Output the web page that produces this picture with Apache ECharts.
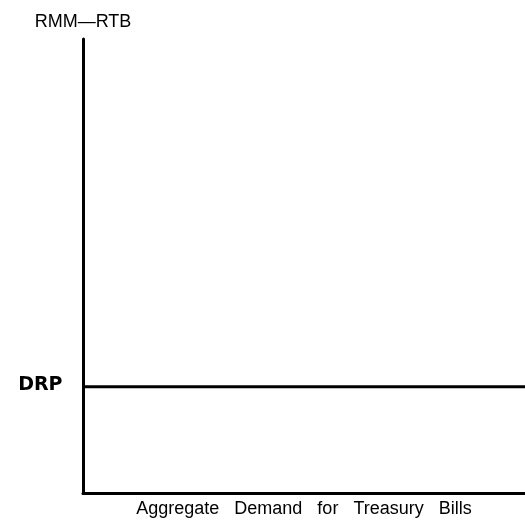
<!DOCTYPE html>
<html>
<head>
<meta charset="utf-8">
<style>
  html, body { margin: 0; padding: 0; background: #fff; }
  #chart { width: 525px; height: 523px; }
</style>
<script src="https://cdn.jsdelivr.net/npm/echarts@6/dist/echarts.min.js"></script>
</head>
<body>
<div id="chart"></div>
<script>
// data (arbitrary 0-100 scale, axes carry no ticks)
var xRange = [0, 100];
var yRange = [0, 100];
var drpLevel = 23.4;
var drpX = [0, 100];
var yTitle = 'RMM\u2014RTB';
var xTitle = 'Aggregate   Demand   for   Treasury   Bills';
var lineLabel = 'DRP';

var chart = echarts.init(document.getElementById('chart'));
var font = 'Liberation Sans, Arial, sans-serif';

// first point carries the DRP label on the left of the axis
var drpData = drpX.map(function (x, i) {
    var item = { value: [x, drpLevel] };
    if (i === 0) {
        item.label = {
            show: true,
            position: 'left',
            distance: 20,
            offset: [0, -2],
            formatter: lineLabel,
            color: '#000',
            fontSize: 19,
            fontWeight: 'bold',
            fontFamily: 'DejaVu Sans, sans-serif'
        };
    }
    return item;
});

var option = {
    animation: false,
    grid: { left: 83, right: 0, top: 39, bottom: 24, containLabel: false },
    xAxis: {
        type: 'value',
        min: xRange[0], max: xRange[1],
        name: xTitle,
        nameLocation: 'middle',
        nameGap: 7,
        nameTextStyle: { color: '#000', fontSize: 18, fontFamily: font, verticalAlign: 'top' },
        axisLine: { show: true, lineStyle: { color: '#000', width: 3 } },
        axisTick: { show: false },
        axisLabel: { show: false },
        splitLine: { show: false }
    },
    yAxis: {
        type: 'value',
        min: yRange[0], max: yRange[1],
        name: yTitle,
        nameLocation: 'end',
        nameGap: 8,
        nameTextStyle: { color: '#000', fontSize: 18, fontFamily: font, align: 'center' },
        axisLine: { show: true, lineStyle: { color: '#000', width: 3 } },
        axisTick: { show: false },
        axisLabel: { show: false },
        splitLine: { show: false }
    },
    series: [{
        type: 'line',
        data: drpData,
        showSymbol: true,
        symbol: 'circle',
        symbolSize: 1,
        itemStyle: { color: '#000' },
        lineStyle: { color: '#000', width: 3 },
        label: { show: false }
    }]
};
chart.setOption(option);
window.onresize = function () { chart.resize(); };
</script>
</body>
</html>
